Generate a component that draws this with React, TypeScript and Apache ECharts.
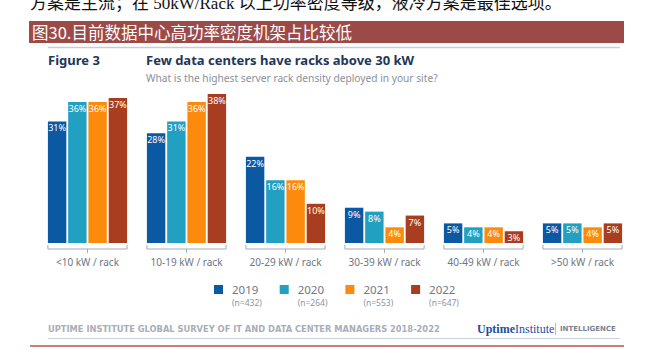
import React, { useEffect, useRef } from "react";
import * as echarts from "echarts";

const categories = ["<10 kW / rack", "10-19 kW / rack", "20-29 kW / rack", "30-39 kW / rack", "40-49 kW / rack", ">50 kW / rack"];
const years = ["2019", "2020", "2021", "2022"];
const sampleSizes = ["(n=432)", "(n=264)", "(n=553)", "(n=647)"];
const values2019 = [31, 28, 22, 9, 5, 5];
const values2020 = [36, 31, 16, 8, 4, 5];
const values2021 = [36, 36, 16, 4, 4, 4];
const values2022 = [37, 38, 10, 7, 3, 5];
const seriesValues = [values2019, values2020, values2021, values2022];
const colors = ["#0b58a3", "#22a0c1", "#fc8b0d", "#a83e1f"];

const topText = "方案是主流；在 50kW/Rack 以上功率密度等级，液冷方案是最佳选项。";
const barTitle = "图30.目前数据中心高功率密度机架占比较低";
const figureLabel = "Figure 3";
const chartTitle = "Few data centers have racks above 30 kW";
const chartSubtitle = "What is the highest server rack density deployed in your site?";
const footerText = "UPTIME INSTITUTE GLOBAL SURVEY OF IT AND DATA CENTER MANAGERS 2018-2022";

export default function App() {
  const ref = useRef<HTMLDivElement>(null);
  useEffect(() => {
    document.body.style.margin = "0";
    const chart = echarts.init(ref.current!, null, { renderer: "svg" });
    const sans = "'Noto Sans', Roboto, sans-serif";
    const bracketColor = "#a3acb9";
    const legendGraphics: any[] = [];
    years.forEach((y, i) => {
      const x = 214 + i * 65.7;
      legendGraphics.push(
        { type: "rect", left: x, top: 285, shape: { width: 9, height: 9 }, style: { fill: colors[i] } },
        { type: "text", x: x + 18, y: 289, style: { text: y, fill: "#6f7886", font: `11.5px ${sans}`, textVerticalAlign: "middle" } },
        { type: "text", x: x + 18, y: 302, style: { text: sampleSizes[i], fill: "#8d95a1", font: `8.5px ${sans}`, textVerticalAlign: "middle" } }
      );
    });
    const option: any = {
      animation: false,
      backgroundColor: "#ffffff",
      grid: { left: 38, right: 27, top: 86.2, bottom: 112, containLabel: false },
      xAxis: {
        type: "category",
        data: categories,
        axisLine: { show: false },
        axisTick: { show: false },
        axisLabel: { color: "#6d7683", fontSize: 10, fontFamily: sans, margin: 14, interval: 0 },
      },
      yAxis: { type: "value", min: 0, max: 40, show: false, splitLine: { show: false } },
      series: [
        ...years.map((y, i) => ({
          type: "bar",
          name: y,
          data: seriesValues[i],
          barCategoryGap: "20%",
          barGap: "10%",
          itemStyle: { color: colors[i] },
          label: {
            show: true,
            position: "insideTop",
            distance: 2,
            formatter: "{c}%",
            color: "#ffffff",
            fontSize: 9,
            fontFamily: sans,
          },
        })),
        {
          type: "custom",
          silent: true,
          data: categories.map((c, i) => [i, 0]),
          encode: { x: 0, y: 1 },
          renderItem: (params: any, api: any) => {
            const idx = api.value(0);
            const p = api.coord([idx, 0]);
            const band = api.size([1, 0])[0];
            const half = band * 0.4;
            const cx = p[0];
            const y = p[1] + 6;
            return {
              type: "group",
              children: [
                {
                  type: "polyline",
                  shape: { points: [[cx - half, y - 4], [cx - half, y], [cx + half, y], [cx + half, y - 4]] },
                  style: { stroke: bracketColor, fill: null, lineWidth: 1 },
                },
                { type: "line", shape: { x1: cx, y1: y, x2: cx, y2: y + 4 }, style: { stroke: bracketColor, lineWidth: 1 } },
              ],
            };
          },
        },
      ],
      graphic: [
        { type: "text", x: 30, y: 3.5, style: { text: topText, fill: "#111", font: "17px 'Liberation Serif', 'Noto Sans CJK SC', serif", textVerticalAlign: "middle" } },
        { type: "rect", left: 29, top: 21, shape: { width: 595, height: 22 }, style: { fill: "#9c4a47" } },
        { type: "text", x: 32, y: 32, style: { text: barTitle, fill: "#ffffff", font: "16.5px 'Noto Sans CJK SC', sans-serif", textVerticalAlign: "middle" } },
        { type: "line", shape: { x1: 48, y1: 47.5, x2: 620, y2: 47.5 }, style: { stroke: "#c6cdd6", lineWidth: 1.5 } },
        { type: "text", x: 48, y: 60, style: { text: figureLabel, fill: "#1f3659", font: `bold 13px ${sans}`, textVerticalAlign: "middle" } },
        { type: "text", x: 146, y: 60, style: { text: chartTitle, fill: "#1f3659", font: `bold 13px ${sans}`, textVerticalAlign: "middle" } },
        { type: "text", x: 146, y: 78, style: { text: chartSubtitle, fill: "#8a9098", font: `10.2px ${sans}`, textVerticalAlign: "middle" } },
        { type: "line", shape: { x1: 208, y1: 94.5, x2: 226, y2: 94.5 }, style: { stroke: "#dc8a78", lineWidth: 1 } },
        ...legendGraphics,
        { type: "text", x: 48, y: 329, style: { text: footerText, fill: "#a7aeb8", font: "bold 8.3px 'DejaVu Sans', sans-serif", textVerticalAlign: "middle" } },
        {
          type: "text",
          x: 477,
          y: 329,
          style: {
            text: "{a|Uptime}{b|Institute}",
            textVerticalAlign: "middle",
            rich: {
              a: { fill: "#1f4e9b", font: "bold 12px 'Liberation Serif', serif" },
              b: { fill: "#1f4e9b", font: "12px 'Liberation Serif', serif" },
            },
          },
        },
        { type: "line", shape: { x1: 555.5, y1: 323, x2: 555.5, y2: 335 }, style: { stroke: "#b7bec8", lineWidth: 1 } },
        { type: "text", x: 560, y: 329, style: { text: "INTELLIGENCE", fill: "#7a8290", font: "bold 7px 'DejaVu Sans', sans-serif", textVerticalAlign: "middle" } },
        { type: "line", shape: { x1: 48, y1: 338.5, x2: 620, y2: 338.5 }, style: { stroke: "#cdd3db", lineWidth: 1 } },
        { type: "line", shape: { x1: 30, y1: 346, x2: 624, y2: 346 }, style: { stroke: "#b5544a", lineWidth: 1.5 } },
      ],
    };
    chart.setOption(option);
    return () => chart.dispose();
  }, []);
  return <div ref={ref} style={{ position: "fixed", left: 0, top: 0, width: 659, height: 355 }} />;
}
